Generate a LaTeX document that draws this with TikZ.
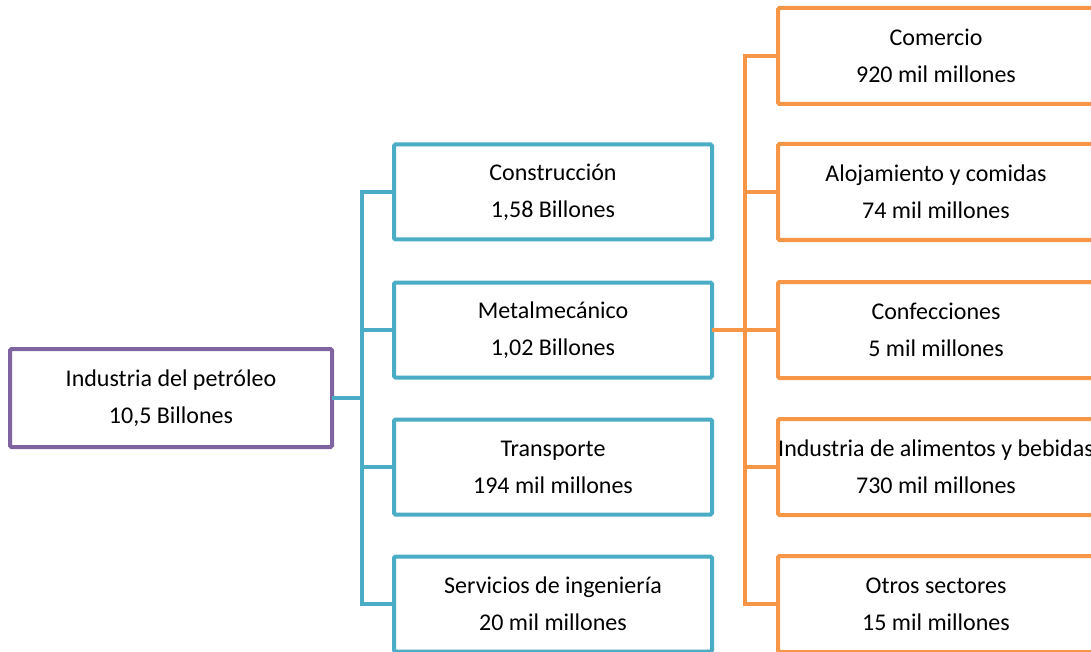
\documentclass[tikz,border=0pt]{standalone}
\usepackage{fontspec}
\setmainfont{Carlito}
\usetikzlibrary{positioning}
\definecolor{sectpurple}{HTML}{8064A2}
\definecolor{sectteal}{HTML}{4BACC6}
\definecolor{sectorange}{HTML}{F79646}
\tikzset{
  sector/.style={draw, line width=4pt, rounded corners=1.5pt, fill=white, align=center,
    inner sep=0pt, outer sep=0pt, font=\fontsize{24}{37}\selectfont},
  purplebox/.style={sector, draw=sectpurple, minimum width=322pt, minimum height=98pt},
  tealbox/.style={sector, draw=sectteal, minimum width=318pt, minimum height=95pt},
  orangebox/.style={sector, draw=sectorange, minimum width=316pt, minimum height=96pt},
  tealline/.style={draw=sectteal, line width=4pt},
  orangeline/.style={draw=sectorange, line width=4pt}
}

\begin{document}
\begin{tikzpicture}[x=1pt, y=-1pt]
                    \useasboundingbox (0,0) rectangle (1091,652);
                    \clip (0,0) rectangle (1091,652);
                    \node [purplebox] (ind) at (171,398) {Industria del petróleo\\10,5 Billones};
                    \node [tealbox] (con) at (553,192) {Construcción\\1,58 Billones};
                    \node [tealbox] (met) at (553,330) {Metalmecánico\\1,02 Billones};
                    \node [tealbox] (tra) at (553,467) {Transporte\\194 mil millones};
                    \node [tealbox] (ser) at (553,604) {Servicios de ingeniería\\20 mil millones};
                    \node [orangebox] (com) at (936,56) {Comercio\\920 mil millones};
                    \node [orangebox] (alo) at (936,192) {Alojamiento y comidas\\74 mil millones};
                    \node [orangebox] (cnf) at (936,330) {Confecciones\\5 mil millones};
                    \node [orangebox] (ali) at (936,467) {\makebox[0pt][c]{Industria de alimentos y bebidas}\\730 mil millones};
                    \node [orangebox] (otr) at (936,604) {Otros sectores\\15 mil millones};
                    % lines
                    \foreach \n in {con,met,tra,ser}
                        \draw [tealline] (ind.east) -- ++(30,0) |- (\n.west);
                    \foreach \n in {com,alo,cnf,ali,otr}
                        \draw [orangeline] (met.east) -- ++(33,0) |- (\n.west);
                \end{tikzpicture}
\end{document}
